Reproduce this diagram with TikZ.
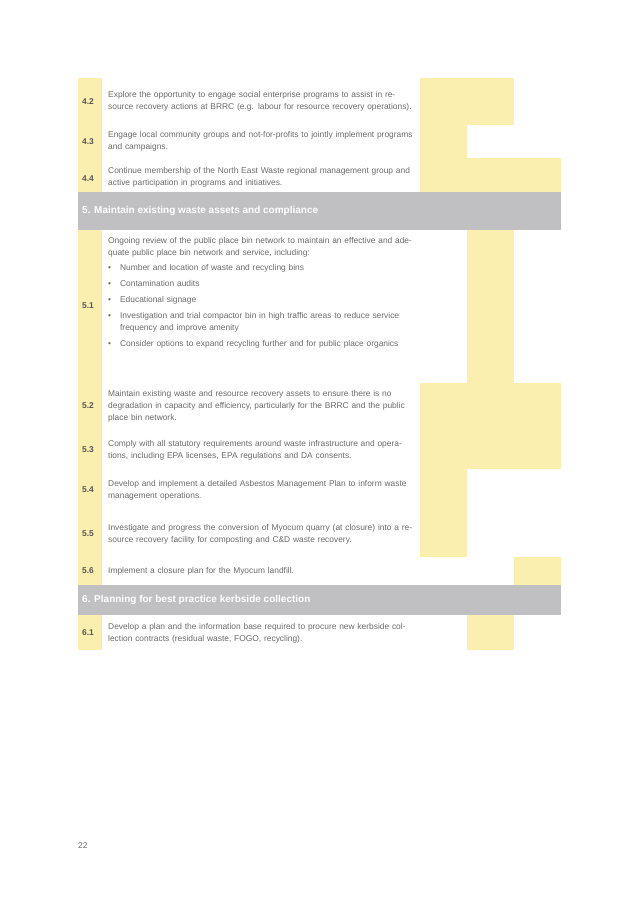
\documentclass[tikz,border=0pt]{standalone}
\usepackage{fontspec}
\setmainfont{Liberation Sans}
\definecolor{yel}{HTML}{FBEFB0}
\definecolor{hdr}{HTML}{C0C0C2}
\definecolor{txt}{HTML}{6A6A6A}
\definecolor{num}{HTML}{555555}
\begin{document}
\begin{tikzpicture}[x=1pt,y=-1pt,
  desc/.style={anchor=west,text width=308pt,align=left,inner sep=0pt,font=\fontsize{8.4}{12}\selectfont,text=txt},
  numlab/.style={anchor=west,inner sep=0pt,font=\fontsize{8.4}{10}\selectfont\bfseries,text=num},
  hdrtext/.style={anchor=west,inner sep=0pt,font=\fontsize{10}{12}\selectfont\bfseries,text=white},
  yb/.style={fill=yel,draw=none}]
\useasboundingbox (0,0) rectangle (638,900);
% number column
\fill[yel] (78,78) rectangle (102,192);
\fill[yel] (78,230) rectangle (102,585);
\fill[yel] (78,615) rectangle (102,650);
% yellow timeline cells
\fill[yel] (420,78) rectangle (514,125);
\fill[yel] (420,125) rectangle (467,158);
\fill[yel] (420,158) rectangle (561,192);
\fill[yel] (467,230) rectangle (514,383);
\fill[yel] (420,383) rectangle (561,469);
\fill[yel] (420,469) rectangle (467,557);
\fill[yel] (514,557) rectangle (561,585);
\fill[yel] (467,615) rectangle (514,650);
% headers
\fill[hdr] (78,192) rectangle (561,230);
\fill[hdr] (78,585) rectangle (561,615);
\node[hdrtext] (h5) at (82,211) {5. Maintain existing waste assets and compliance};
\node[hdrtext] (h6) at (82,600) {6. Planning for best practice kerbside collection};
% rows
\node[numlab] (n42) at (82,102) {4.2};
\node[desc] (t42) at (108,101) {Explore the opportunity to engage social enterprise programs to assist in resource recovery actions at BRRC (e.g. labour for resource recovery operations).};
\node[numlab] (n43) at (82,142) {4.3};
\node[desc] (t43) at (108,141) {Engage local community groups and not-for-profits to jointly implement programs and campaigns.};
\node[numlab] (n44) at (82,179) {4.4};
\node[desc] (t44) at (108,177) {Continue membership of the North East Waste regional management group and active participation in programs and initiatives.};
\node[numlab] (n51) at (82,306) {5.1};
\node[desc,anchor=north west] (t51) at (108,237) {Ongoing review of the public place bin network to maintain an effective and adequate public place bin network and service, including:\\[4pt]
\begin{tabular}{@{}l@{\hspace{9pt}}p{280pt}@{}}
\textbullet & Number and location of waste and recycling bins\\[4pt]
\textbullet & Contamination audits\\[4pt]
\textbullet & Educational signage\\[4pt]
\textbullet & Investigation and trial compactor bin in high traffic areas to reduce service frequency and improve amenity\\[4pt]
\textbullet & Consider options to expand recycling further and for public place organics
\end{tabular}};
\node[numlab] (n52) at (82,406) {5.2};
\node[desc] (t52) at (108,406) {Maintain existing waste and resource recovery assets to ensure there is no degradation in capacity and efficiency, particularly for the BRRC and the public place bin network.};
\node[numlab] (n53) at (82,450) {5.3};
\node[desc] (t53) at (108,450) {Comply with all statutory requirements around waste infrastructure and operations, including EPA licenses, EPA regulations and DA consents.};
\node[numlab] (n54) at (82,490) {5.4};
\node[desc] (t54) at (108,490) {Develop and implement a detailed Asbestos Management Plan to inform waste management operations.};
\node[numlab] (n55) at (82,534) {5.5};
\node[desc] (t55) at (108,534) {Investigate and progress the conversion of Myocum quarry (at closure) into a resource recovery facility for composting and C\&D waste recovery.};
\node[numlab] (n56) at (82,571) {5.6};
\node[desc] (t56) at (108,571) {Implement a closure plan for the Myocum landfill.};
\node[numlab] (n61) at (82,633) {6.1};
\node[desc] (t61) at (108,633) {Develop a plan and the information base required to procure new kerbside collection contracts (residual waste, FOGO, recycling).};
\node[anchor=west,inner sep=0pt,font=\fontsize{8.4}{10}\selectfont,text=txt] (pg) at (78,846) {22};
\end{tikzpicture}
\end{document}
